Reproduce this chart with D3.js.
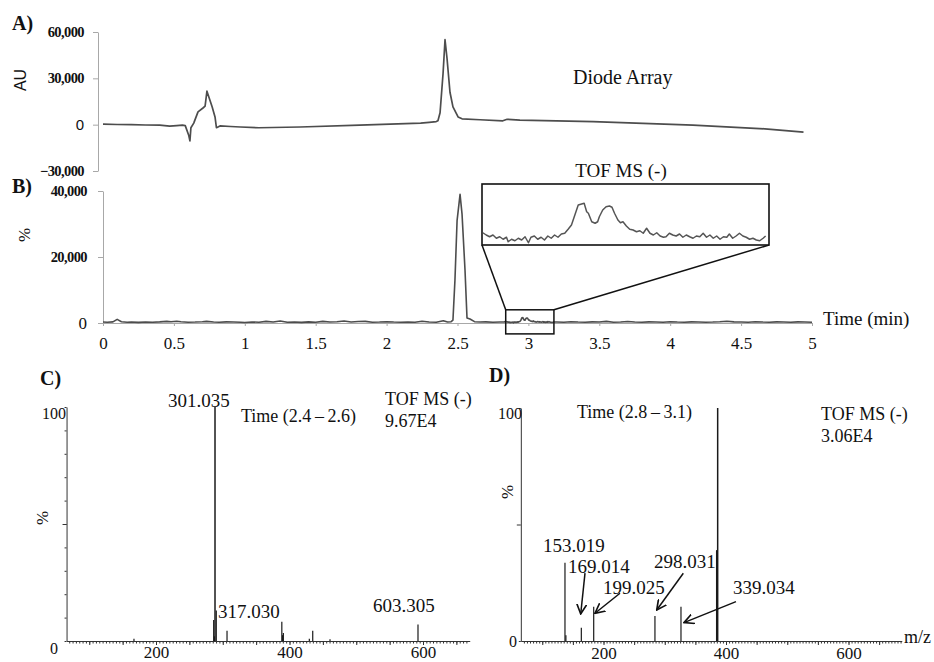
<!DOCTYPE html>
<html>
<head>
<meta charset="utf-8">
<script src="https://cdn.jsdelivr.net/npm/d3@7/dist/d3.min.js"></script>
<style>
  body { margin: 0; background: #fff; }
  text { font-family: "Liberation Serif", serif; fill: #111; }
</style>
</head>
<body>
<script>
// ---- data ----
// A) diode array chromatogram [time (min), AU]
const daTrace = [
  [0, 300], [0.1, 100], [0.2, 0], [0.3, -200], [0.4, -300], [0.47, -1000], [0.52, -600],
  [0.56, -300], [0.58, -600], [0.605, -7000], [0.613, -10500], [0.62, -2000], [0.64, 1000],
  [0.67, 8300], [0.705, 10800], [0.72, 12000], [0.733, 21700], [0.77, 11500], [0.79, 5000],
  [0.80, -2000], [0.825, -800], [0.9, -1200], [0.97, -1500], [1.1, -2000], [1.39, -1500],
  [1.81, -300], [2.24, 1000], [2.3, 1500], [2.35, 2000], [2.362, 2500], [2.377, 7700],
  [2.398, 33000], [2.412, 55000], [2.426, 43000], [2.447, 21000], [2.468, 11500],
  [2.504, 5000], [2.532, 3800], [2.659, 3200], [2.82, 2500], [2.85, 3500], [2.94, 3000],
  [3.456, 2000], [4.16, -300], [4.63, -2500], [4.94, -4800]
];

// B) TOF MS (-) chromatogram [time (min), counts]
const tofTrace = [
  [0, 300], [0.03, 250], [0.07, 350], [0.1, 1100], [0.13, 400], [0.17, 250], [0.2, 300],
  [0.25, 200], [0.3, 300], [0.35, 250], [0.4, 350], [0.45, 500], [0.48, 400], [0.52, 550],
  [0.55, 400], [0.6, 250], [0.65, 300], [0.7, 400], [0.73, 500], [0.78, 300], [0.82, 250],
  [0.87, 350], [0.92, 300], [0.97, 250], [1.0, 150], [1.05, 300], [1.1, 250], [1.15, 500],
  [1.2, 300], [1.25, 600], [1.3, 250], [1.35, 300], [1.4, 200], [1.45, 350], [1.5, 250],
  [1.55, 500], [1.6, 300], [1.65, 400], [1.7, 600], [1.75, 300], [1.8, 450], [1.85, 500],
  [1.9, 250], [1.95, 300], [2.0, 400], [2.05, 300], [2.1, 250], [2.15, 300], [2.2, 250],
  [2.25, 550], [2.3, 300], [2.35, 250], [2.4, 700], [2.43, 300], [2.455, 400],
  [2.468, 900], [2.482, 13000], [2.497, 31000], [2.518, 39000], [2.532, 33000],
  [2.553, 16000], [2.567, 1500], [2.588, 1200], [2.62, 400], [2.66, 300], [2.7, 350],
  [2.75, 250], [2.8, 300], [2.83, 350],
  [2.841, 450], [2.845, 360], [2.849, 290], [2.853, 360], [2.857, 230], [2.861, 290],
  [2.865, 190], [2.869, 270], [2.871, 90], [2.875, 190], [2.879, 130], [2.883, 230],
  [2.887, 160], [2.891, 290], [2.895, 50], [2.898, 270], [2.902, 320], [2.906, 190],
  [2.910, 270], [2.914, 160], [2.918, 320], [2.922, 230], [2.926, 360], [2.930, 270],
  [2.934, 400], [2.938, 430], [2.942, 590], [2.946, 760], [2.950, 1160], [2.954, 1560],
  [2.958, 1600], [2.961, 1630], [2.964, 1290], [2.966, 1230], [2.970, 890], [2.974, 830],
  [2.977, 890], [2.979, 1090], [2.983, 1360], [2.987, 1490], [2.991, 1520], [2.994, 1470],
  [2.997, 1230], [3.001, 960], [3.004, 850], [3.007, 890], [3.011, 720], [3.015, 590],
  [3.019, 560], [3.023, 490], [3.027, 530], [3.031, 430], [3.035, 630], [3.039, 430],
  [3.043, 360], [3.047, 450], [3.051, 320], [3.055, 270], [3.058, 290], [3.062, 430],
  [3.066, 360], [3.070, 320], [3.074, 400], [3.078, 270], [3.082, 360], [3.086, 290],
  [3.090, 230], [3.094, 320], [3.098, 290], [3.102, 430], [3.106, 270], [3.110, 360],
  [3.114, 230], [3.118, 320], [3.122, 190], [3.126, 290], [3.130, 270], [3.133, 400],
  [3.137, 230], [3.141, 320], [3.145, 430], [3.149, 320], [3.153, 270], [3.157, 190],
  [3.161, 230], [3.165, 160], [3.169, 130], [3.173, 230], [3.176, 320],
  [3.2, 300], [3.25, 250], [3.3, 400], [3.35, 300], [3.4, 250], [3.45, 350], [3.5, 300],
  [3.55, 500], [3.6, 250], [3.65, 300], [3.7, 450], [3.75, 300], [3.8, 250], [3.85, 350],
  [3.9, 300], [3.95, 250], [4.0, 400], [4.05, 300], [4.1, 250], [4.15, 350], [4.2, 300],
  [4.25, 250], [4.3, 300], [4.35, 400], [4.4, 550], [4.45, 350], [4.5, 300], [4.55, 250],
  [4.6, 400], [4.65, 300], [4.7, 250], [4.75, 350], [4.8, 300], [4.85, 250], [4.9, 350],
  [4.95, 300], [5.0, 250]
];

const daTicks = [-30000, 0, 30000, 60000];
const tofTicks = [0, 20000, 40000];
const timeTicks = [0, 0.5, 1, 1.5, 2, 2.5, 3, 3.5, 4, 4.5, 5];
const zoomWindow = [2.84, 3.18];       // time range blown up in the inset
const zoomLevels = [-3300, 4000];       // counts range of the small box

// C) spectrum, time 2.4 - 2.6  [m/z, %]
const specC = [
  [167, 1.0], [286.4, 9], [287.5, 2], [288.4, 100], [290.3, 13], [306.4, 4.4],
  [388.5, 8.2], [389.6, 2.5], [390.8, 3.4], [429.7, 1.0], [434.8, 4.4], [460.7, 0.8],
  [592.5, 7.1]
];
// D) spectrum, time 2.8 - 3.1  [m/z, %]
const specD = [
  [137.1, 33.6], [138.6, 2.5], [163.8, 5.7], [184.0, 14.7], [284.0, 10.7], [326.5, 14.7],
  [384.6, 39], [386.4, 100]
];
const mzTicks = [200, 400, 600];

const labelsC = ["301.035", "317.030", "603.305"];
const labelsD = ["153.019", "169.014", "199.025", "298.031", "339.034"];

// annotation placement, in the spectrum's own units
const placeC = [
  { lx: 264.4, ly: 100, anchor: "middle" },
  { lx: 292.9, ly: 9.8 },
  { lx: 525.1, ly: 12.4 }
];
const placeD = [
  { lx: 101.2, ly: 38.2 },
  { lx: 142, ly: 29.2, from: [169.8, 29.1], to: [162.8, 11.6] },
  { lx: 199.2, ly: 20.2, from: [226.9, 20.5], to: [186.1, 11.9] },
  { lx: 282.4, ly: 31.3, from: [330.3, 29.1], to: [286.9, 13.3] },
  { lx: 411.4, ly: 20.2, from: [416.3, 16.9], to: [331.4, 7.9] }
];

// ---- drawing ----
const width = 934, height = 662;
const svg = d3.select("body").append("svg")
  .attr("width", width).attr("height", height)
  .style("display", "block");
svg.append("rect").attr("width", width).attr("height", height).attr("fill", "#fff");

const defs = svg.append("defs");
defs.append("marker")
  .attr("id", "arrow")
  .attr("viewBox", "0 0 10 10")
  .attr("refX", 9).attr("refY", 5)
  .attr("markerWidth", 11).attr("markerHeight", 11)
  .attr("markerUnits", "userSpaceOnUse")
  .attr("orient", "auto")
  .append("path")
  .attr("d", "M0,0.5 L9,5 L0,9.5")
  .attr("fill", "none").attr("stroke", "#111").attr("stroke-width", 1.5);

const xTime = d3.scaleLinear().domain([0, 5]).range([103, 812]);
const yDA = d3.scaleLinear().domain([-30000, 60000]).range([171, 32]);
const yTOF = d3.scaleLinear().domain([0, 40000]).range([323, 191]);

const grey = "#a8a8a8";
const trace = "#4d4d4d";
const comma = d3.format(",");

function styleAxis(g, color) {
  g.selectAll(".domain").attr("stroke", color);
  g.selectAll(".tick line").attr("stroke", color);
}

// panel A
const axA = svg.append("g")
  .attr("transform", `translate(${xTime(0) - 5},0)`)
  .call(d3.axisLeft(yDA).tickValues(daTicks).tickSize(5).tickSizeOuter(0).tickPadding(9)
    .tickFormat(comma));
styleAxis(axA, grey);
axA.selectAll(".tick text")
  .attr("fill", "#111")
  .style("font-family", d => d === 0 ? "'Liberation Sans', sans-serif" : "'Liberation Serif', serif")
  .style("font-weight", d => d === 0 ? "normal" : "bold")
  .style("font-size", d => d === 0 ? "15px" : "14.5px")
  .style("letter-spacing", d => d === 0 ? "0" : "-0.6px");

svg.append("path")
  .datum(daTrace)
  .attr("fill", "none").attr("stroke", trace).attr("stroke-width", 1.7)
  .attr("stroke-linejoin", "round")
  .attr("d", d3.line().x(d => xTime(d[0])).y(d => yDA(d[1])));

svg.append("text").attr("x", 12).attr("y", 30)
  .style("font-size", "20px").style("font-weight", "bold").text("A)");
svg.append("text")
  .attr("transform", "translate(26,80) rotate(-90)")
  .attr("text-anchor", "middle")
  .style("font-family", "'Liberation Sans', sans-serif")
  .style("font-size", "16px").attr("fill", "#333").text("AU");
svg.append("text").attr("x", 573).attr("y", 84)
  .style("font-size", "20px").text("Diode Array");

// panel B
const axB = svg.append("g")
  .attr("transform", `translate(${xTime(0)},0)`)
  .call(d3.axisLeft(yTOF).tickValues(tofTicks).tickSize(5).tickSizeOuter(0).tickPadding(11)
    .tickFormat(comma));
styleAxis(axB, grey);
axB.selectAll(".tick text")
  .attr("fill", "#111")
  .style("font-family", "'Liberation Serif', serif")
  .style("font-weight", d => d === 0 ? "normal" : "bold")
  .style("font-size", d => d === 0 ? "17px" : "14.5px")
  .style("letter-spacing", d => d === 0 ? "0" : "-0.6px");

const axBx = svg.append("g")
  .attr("transform", `translate(0,${yTOF(0)})`)
  .call(d3.axisBottom(xTime).tickValues(timeTicks).tickSize(3).tickSizeOuter(0).tickPadding(11)
    .tickFormat(d3.format("")));
styleAxis(axBx, grey);
axBx.selectAll(".tick text")
  .attr("fill", "#111")
  .style("font-family", "'Liberation Serif', serif")
  .style("font-size", "17px");

svg.append("path")
  .datum(tofTrace)
  .attr("fill", "none").attr("stroke", trace).attr("stroke-width", 1.6)
  .attr("stroke-linejoin", "round")
  .attr("d", d3.line().x(d => xTime(d[0])).y(d => yTOF(d[1])));

svg.append("text").attr("x", 12).attr("y", 193)
  .style("font-size", "20px").style("font-weight", "bold").text("B)");
svg.append("text")
  .attr("transform", "translate(30,235) rotate(-90)")
  .attr("text-anchor", "middle")
  .style("font-size", "17px").attr("fill", "#333").text("%");
svg.append("text").attr("x", 823).attr("y", 325)
  .style("font-size", "19px").text("Time (min)");

// zoom box + inset
const box = {
  x0: xTime(zoomWindow[0]), x1: xTime(zoomWindow[1]),
  y0: yTOF(zoomLevels[1]), y1: yTOF(zoomLevels[0])
};
const xZoom = d3.scaleLinear().domain(zoomWindow).range([482, 769]);
const yZoom = d3.scaleLinear().domain([0, 2000]).range([244, 194]);
const inset = { x0: 482, x1: 769, y0: 184, y1: 245 };

svg.append("rect")
  .attr("x", box.x0).attr("y", box.y0)
  .attr("width", box.x1 - box.x0).attr("height", box.y1 - box.y0)
  .attr("fill", "none").attr("stroke", "#111").attr("stroke-width", 1.5);
svg.append("line")
  .attr("x1", box.x0).attr("y1", box.y0).attr("x2", inset.x0).attr("y2", inset.y1)
  .attr("stroke", "#111").attr("stroke-width", 1.5);
svg.append("line")
  .attr("x1", box.x1).attr("y1", box.y0).attr("x2", inset.x1).attr("y2", inset.y1)
  .attr("stroke", "#111").attr("stroke-width", 1.5);

defs.append("clipPath").attr("id", "insetClip")
  .append("rect").attr("x", inset.x0).attr("y", inset.y0)
  .attr("width", inset.x1 - inset.x0).attr("height", inset.y1 - inset.y0);

svg.append("rect")
  .attr("x", inset.x0).attr("y", inset.y0)
  .attr("width", inset.x1 - inset.x0).attr("height", inset.y1 - inset.y0)
  .attr("fill", "#fff").attr("stroke", "#111").attr("stroke-width", 1.6);
svg.append("path")
  .datum(tofTrace.filter(d => d[0] >= zoomWindow[0] && d[0] <= zoomWindow[1]))
  .attr("clip-path", "url(#insetClip)")
  .attr("fill", "none").attr("stroke", "#555").attr("stroke-width", 1.5)
  .attr("stroke-linejoin", "round")
  .attr("d", d3.line().x(d => xZoom(d[0])).y(d => yZoom(d[1])));
svg.append("text").attr("x", 621).attr("y", 177).attr("text-anchor", "middle")
  .style("font-size", "19px").text("TOF MS (-)");

// ---- spectra C and D ----
function spectrum(opts) {
  const { data, x, y, labels, place, tickMin, tickMax, labelY, minorY } = opts;
  const g = svg.append("g");

  // minor ticks along m/z
  g.append("g")
    .attr("transform", `translate(0,${y(0)})`)
    .call(d3.axisBottom(x).tickValues(d3.range(tickMin, tickMax, 5)).tickSize(2.5)
      .tickSizeOuter(0).tickFormat(""))
    .call(a => styleAxis(a, "#333"));
  g.append("g")
    .attr("transform", `translate(0,${y(0)})`)
    .call(d3.axisBottom(x).tickValues(d3.range(100, tickMax, 50)).tickSize(4)
      .tickSizeOuter(0).tickFormat(""))
    .call(a => a.select(".domain").remove())
    .call(a => styleAxis(a, "#333"));
  g.append("g")
    .attr("transform", `translate(0,${labelY})`)
    .call(d3.axisBottom(x).tickValues(mzTicks).tickSize(0).tickPadding(0))
    .call(a => a.select(".domain").remove())
    .call(a => a.selectAll(".tick text").attr("dy", 0).attr("y", 0)
      .attr("fill", "#111")
      .style("font-family", "'Liberation Serif', serif").style("font-size", "17px"));

  // y axis
  g.append("g")
    .attr("transform", `translate(${x.range()[0]},0)`)
    .call(d3.axisLeft(y).tickValues(minorY).tickSize(2).tickSizeOuter(0).tickFormat(""))
    .call(a => styleAxis(a, "#333"));
  g.append("g")
    .attr("transform", `translate(${x.range()[0]},0)`)
    .call(d3.axisLeft(y).tickValues([50]).tickSize(4).tickFormat(""))
    .call(a => a.select(".domain").remove())
    .call(a => styleAxis(a, "#333"));

  // peaks
  g.selectAll(".peak").data(data).join("line")
    .attr("class", "peak")
    .attr("x1", d => x(d[0])).attr("x2", d => x(d[0]))
    .attr("y1", y(0)).attr("y2", d => y(d[1]))
    .attr("stroke", "#1a1a1a")
    .attr("stroke-width", d => d[1] >= 90 ? 1.5 : 1.2);

  // annotations
  labels.forEach((t, i) => {
    const p = place[i];
    g.append("text")
      .attr("x", x(p.lx)).attr("y", y(p.ly))
      .attr("text-anchor", p.anchor || "start")
      .style("font-size", "19px").text(t);
    if (p.from) {
      g.append("line")
        .attr("x1", x(p.from[0])).attr("y1", y(p.from[1]))
        .attr("x2", x(p.to[0])).attr("y2", y(p.to[1]))
        .attr("stroke", "#111").attr("stroke-width", 1.5)
        .attr("marker-end", "url(#arrow)");
    }
  });
  return g;
}

const kC = 267 / 400;
const xC = d3.scaleLinear().domain([66, 670]).range([156 + (66 - 200) * kC, 156 + (670 - 200) * kC]);
const yC = d3.scaleLinear().domain([0, 100]).range([641, 407]);
const kD = 245 / 400;
const xD = d3.scaleLinear().domain([65, 687]).range([603.5 + (65 - 200) * kD, 603.5 + (687 - 200) * kD]);
const yD = d3.scaleLinear().domain([0, 100]).range([641, 408]);

spectrum({ data: specC, x: xC, y: yC, labels: labelsC, place: placeC,
  tickMin: 70, tickMax: 670, labelY: 658, minorY: d3.range(0, 101, 10) });
spectrum({ data: specD, x: xD, y: yD, labels: labelsD, place: placeD,
  tickMin: 70, tickMax: 687, labelY: 659, minorY: [0, 100] });

// panel C texts
svg.append("text").attr("x", 40).attr("y", 385)
  .style("font-size", "20px").style("font-weight", "bold").text("C)");
svg.append("text").attr("x", 66).attr("y", 419).attr("text-anchor", "end")
  .style("font-size", "16px").text("100");
svg.append("text").attr("x", 58).attr("y", 654).attr("text-anchor", "end")
  .style("font-size", "16px").text("0");
svg.append("text")
  .attr("transform", "translate(48,518) rotate(-90)")
  .attr("text-anchor", "middle").style("font-size", "17px").text("%");
svg.append("text").attr("x", 241).attr("y", 422)
  .style("font-size", "18px").text("Time (2.4\u2009\u2013\u20092.6)");
svg.append("text").attr("x", 385).attr("y", 405)
  .style("font-size", "18px").text("TOF MS (-)");
svg.append("text").attr("x", 385).attr("y", 427)
  .style("font-size", "18px").text("9.67E4");

// panel D texts
svg.append("text").attr("x", 489).attr("y", 382)
  .style("font-size", "20px").style("font-weight", "bold").text("D)");
svg.append("text").attr("x", 522).attr("y", 419).attr("text-anchor", "end")
  .style("font-size", "16px").text("100");
svg.append("text").attr("x", 517).attr("y", 647).attr("text-anchor", "end")
  .style("font-size", "16px").text("0");
svg.append("text")
  .attr("transform", "translate(513,492) rotate(-90)")
  .attr("text-anchor", "middle").style("font-size", "17px").text("%");
svg.append("text").attr("x", 577).attr("y", 418)
  .style("font-size", "18px").text("Time (2.8\u2009\u2013\u20093.1)");
svg.append("text").attr("x", 821).attr("y", 420)
  .style("font-size", "18px").text("TOF MS (-)");
svg.append("text").attr("x", 821).attr("y", 442)
  .style("font-size", "18px").text("3.06E4");
svg.append("text").attr("x", 904).attr("y", 643)
  .style("font-size", "18px").text("m/z");
</script>
</body>
</html>
